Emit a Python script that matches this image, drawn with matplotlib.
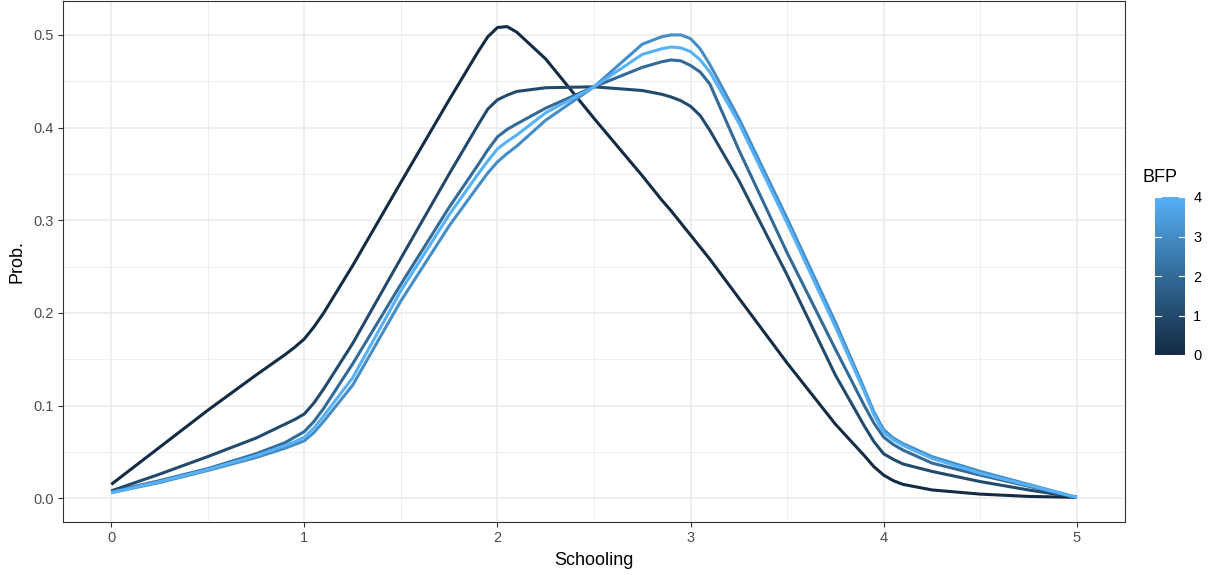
import numpy as np
import matplotlib
matplotlib.use('Agg')
import matplotlib.pyplot as plt
from matplotlib.colors import ListedColormap, Normalize
from matplotlib.cm import ScalarMappable

plt.rcParams['font.family'] = ['Liberation Sans', 'DejaVu Sans']

schooling = [0, 0.25, 0.5, 0.75, 0.9, 0.95, 1.0, 1.05, 1.1, 1.25, 1.5, 1.75, 1.9, 1.95, 2.0, 2.05, 2.1, 2.25,
             2.5, 2.75, 2.85, 2.9, 2.95, 3.0, 3.05, 3.1, 3.25, 3.5, 3.75, 3.9, 3.95, 4.0, 4.05, 4.1, 4.25,
             4.5, 4.75, 5.0]

bfp_levels = [0, 1, 2, 3, 4]

prob_bfp0 = [0.015, 0.055, 0.095, 0.133, 0.155, 0.163, 0.172, 0.185, 0.200, 0.251, 0.341, 0.430, 0.482, 0.498,
             0.508, 0.509, 0.503, 0.474, 0.410, 0.348, 0.322, 0.310, 0.297, 0.284, 0.271, 0.258, 0.216, 0.146,
             0.080, 0.046, 0.034, 0.025, 0.019, 0.015, 0.009, 0.0045, 0.002, 0.001]
prob_bfp1 = [0.008, 0.026, 0.045, 0.065, 0.080, 0.085, 0.091, 0.103, 0.118, 0.167, 0.259, 0.350, 0.403, 0.420,
             0.430, 0.435, 0.439, 0.443, 0.444, 0.440, 0.436, 0.433, 0.429, 0.423, 0.413, 0.397, 0.343, 0.241,
             0.133, 0.078, 0.061, 0.048, 0.042, 0.037, 0.029, 0.018, 0.009, 0.001]
prob_bfp2 = [0.007, 0.019, 0.032, 0.048, 0.060, 0.066, 0.072, 0.083, 0.097, 0.145, 0.231, 0.314, 0.360, 0.376,
             0.390, 0.398, 0.404, 0.421, 0.444, 0.465, 0.471, 0.473, 0.472, 0.467, 0.460, 0.447, 0.376, 0.265,
             0.161, 0.100, 0.081, 0.066, 0.058, 0.052, 0.038, 0.025, 0.013, 0.001]
prob_bfp3 = [0.006, 0.017, 0.030, 0.044, 0.054, 0.058, 0.062, 0.071, 0.083, 0.122, 0.213, 0.294, 0.337, 0.351,
             0.363, 0.372, 0.380, 0.408, 0.444, 0.490, 0.498, 0.500, 0.500, 0.496, 0.485, 0.468, 0.410, 0.302,
             0.190, 0.118, 0.093, 0.074, 0.065, 0.059, 0.045, 0.029, 0.015, 0.001]
prob_bfp4 = [0.006, 0.018, 0.031, 0.046, 0.057, 0.061, 0.066, 0.076, 0.089, 0.130, 0.224, 0.306, 0.350, 0.364,
             0.377, 0.385, 0.392, 0.416, 0.444, 0.479, 0.485, 0.487, 0.486, 0.482, 0.473, 0.460, 0.405, 0.297,
             0.185, 0.115, 0.090, 0.071, 0.063, 0.057, 0.043, 0.027, 0.014, 0.001]

series = [prob_bfp0, prob_bfp1, prob_bfp2, prob_bfp3, prob_bfp4]


# ggplot-like gradient (#132B43 -> #56B1F7, interpolated in Lab)
def _srgb_to_lab(rgb):
    c = np.asarray(rgb, float)
    c = np.where(c <= 0.04045, c / 12.92, ((c + 0.055) / 1.055) ** 2.4)
    m = np.array([[0.4124, 0.3576, 0.1805], [0.2126, 0.7152, 0.0722], [0.0193, 0.1192, 0.9505]])
    xyz = m @ c / np.array([0.95047, 1.0, 1.08883])
    f = np.where(xyz > 0.008856, np.cbrt(xyz), 7.787 * xyz + 16 / 116)
    return np.array([116 * f[1] - 16, 500 * (f[0] - f[1]), 200 * (f[1] - f[2])])


def _lab_to_srgb(lab):
    L, a, b = lab
    fy = (L + 16) / 116
    fx = fy + a / 500
    fz = fy - b / 200
    f = np.array([fx, fy, fz])
    xyz = np.where(f ** 3 > 0.008856, f ** 3, (f - 16 / 116) / 7.787) * np.array([0.95047, 1.0, 1.08883])
    m = np.array([[3.2406, -1.5372, -0.4986], [-0.9689, 1.8758, 0.0415], [0.0557, -0.2040, 1.0570]])
    c = m @ xyz
    c = np.where(c <= 0.0031308, 12.92 * c, 1.055 * np.clip(c, 0, None) ** (1 / 2.4) - 0.055)
    return np.clip(c, 0, 1)


lo = _srgb_to_lab(matplotlib.colors.to_rgb('#132B43'))
hi = _srgb_to_lab(matplotlib.colors.to_rgb('#56B1F7'))
cmap = ListedColormap([_lab_to_srgb(lo + (hi - lo) * t) for t in np.linspace(0, 1, 256)])
norm = Normalize(vmin=0, vmax=4)

fig = plt.figure(figsize=(12.09, 5.75), dpi=100)
ax = fig.add_axes([63 / 1209, 53 / 575, 1062 / 1209, 521 / 575])

for lvl, vals in zip(bfp_levels, series):
    ax.plot(schooling, vals, color=cmap(norm(lvl)), lw=2.2, solid_capstyle='butt',
            solid_joinstyle='round', zorder=3)

ax.set_xlim(-0.25, 5.25)
ax.set_ylim(-0.0256, 0.5366)
ax.set_xticks([0, 1, 2, 3, 4, 5])
ax.set_xticks([0.5, 1.5, 2.5, 3.5, 4.5], minor=True)
ax.set_yticks([0.0, 0.1, 0.2, 0.3, 0.4, 0.5])
ax.set_yticklabels(['0.0', '0.1', '0.2', '0.3', '0.4', '0.5'])
ax.set_yticks([0.05, 0.15, 0.25, 0.35, 0.45], minor=True)
ax.grid(which='major', color='#EBEBEB', lw=1.1, zorder=0)
ax.grid(which='minor', color='#EBEBEB', lw=0.6, zorder=0)
ax.set_axisbelow(True)
ax.tick_params(which='major', length=3.5, width=0.8, color='#333333', labelcolor='#4D4D4D',
               labelsize=10.5, pad=3)
ax.tick_params(which='minor', length=0)
for s in ax.spines.values():
    s.set_color('#333333')
    s.set_linewidth(0.8)
ax.set_xlabel('Schooling', fontsize=13, labelpad=5)
ax.set_ylabel('Prob.', fontsize=13, labelpad=6)

# colour bar legend
cax = fig.add_axes([1155 / 1209, (575 - 355) / 575, 30 / 1209, 158 / 575])
cb = fig.colorbar(ScalarMappable(norm=norm, cmap=cmap), cax=cax, ticks=bfp_levels)
cb.outline.set_visible(False)
cax.tick_params(length=0, labelsize=10.5, labelcolor='black', pad=6)
for lvl in bfp_levels:
    cax.plot([0, 0.2], [lvl, lvl], color='white', lw=0.8, transform=cax.get_yaxis_transform())
    cax.plot([0.8, 1.0], [lvl, lvl], color='white', lw=0.8, transform=cax.get_yaxis_transform())
fig.text(1143 / 1209, 1 - 178 / 575, 'BFP', fontsize=13, ha='left', va='center')

fig.savefig('out.png', dpi=100, facecolor='white')
